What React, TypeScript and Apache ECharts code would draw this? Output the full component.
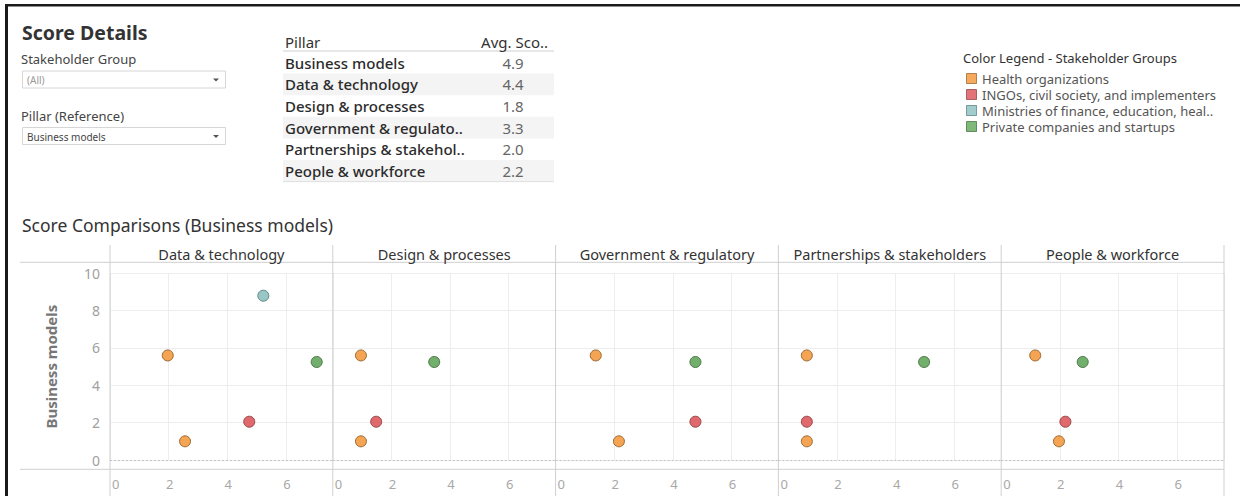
import React, { useEffect, useRef } from "react";
import * as echarts from "echarts";

// ---------- data ----------
const comparedPillars = [
  "Data & technology",
  "Design & processes",
  "Government & regulatory",
  "Partnerships & stakeholders",
  "People & workforce",
];

const stakeholderGroups = [
  "Health organizations",
  "INGOs, civil society, and implementers",
  "Ministries of finance, education, heal..",
  "Private companies and startups",
];

// [pillar score (x), business models score (y)] per compared pillar
const healthOrgs: number[][][] = [
  [[1.97, 5.6], [2.56, 1.0]],
  [[0.96, 5.6], [0.96, 1.0]],
  [[1.37, 5.6], [2.16, 1.0]],
  [[0.97, 5.6], [0.97, 1.0]],
  [[1.16, 5.6], [1.97, 1.0]],
];
const ingos: number[][][] = [
  [[4.75, 2.05]],
  [[1.48, 2.05]],
  [[4.77, 2.05]],
  [[0.97, 2.05]],
  [[2.19, 2.05]],
];
const ministries: number[][][] = [[[5.23, 8.8]], [], [], [], []];
const privateCos: number[][][] = [
  [[7.05, 5.25]],
  [[3.46, 5.25]],
  [[4.77, 5.25]],
  [[4.97, 5.25]],
  [[2.78, 5.25]],
];

const tablePillars = [
  "Business models",
  "Data & technology",
  "Design & processes",
  "Government & regulato..",
  "Partnerships & stakehol..",
  "People & workforce",
];
const avgScores = [4.9, 4.4, 1.8, 3.3, 2.0, 2.2];

const yTicks = { min: 0, max: 10, interval: 2 };
const xTicks = { min: 0, max: 7.6, interval: 2 };

// ---------- styles ----------
const FONT = "'Noto Sans', 'Open Sans', sans-serif";
const groupFill = ["#F4A452", "#E0696E", "#98C7C6", "#73AF6C"];
const groupStroke = ["#9C6A35", "#97474A", "#5F8786", "#4A7746"];
const swatchFill = ["#F5AA5E", "#E27479", "#A3CDCC", "#80B879"];

const LEFT = 110;
const PANEL_W = 222.8;
const TOP = 273.3;
const PLOT_H = 186.7;

export default function App() {
  const ref = useRef<HTMLDivElement>(null);

  useEffect(() => {
    if (!ref.current) return;
    const chart = echarts.init(ref.current, null, { renderer: "svg" });

    const grids: any[] = [];
    const xAxes: any[] = [];
    const yAxes: any[] = [];
    const series: any[] = [];
    const groupData = [healthOrgs, ingos, ministries, privateCos];

    comparedPillars.forEach((p, i) => {
      grids.push({
        left: LEFT + i * PANEL_W,
        width: PANEL_W,
        top: TOP,
        height: PLOT_H,
        containLabel: false,
      });
      xAxes.push({
        type: "value",
        gridIndex: i,
        min: xTicks.min,
        max: xTicks.max,
        interval: xTicks.interval,
        offset: 9,
        axisLine: { show: false },
        axisTick: { show: false },
        axisLabel: {
          color: "#a8a8a8",
          fontSize: 13,
          fontFamily: FONT,
          margin: 8,
          showMaxLabel: false,
          alignMinLabel: "left",
          padding: [0, 0, 0, 2],
        },
        splitLine: { show: true, lineStyle: { color: "#ededed", width: 1 } },
      });
      yAxes.push({
        type: "value",
        gridIndex: i,
        min: yTicks.min,
        max: yTicks.max,
        interval: yTicks.interval,
        axisLine: { show: false },
        axisTick: { show: false },
        axisLabel: {
          show: i === 0,
          color: "#a0a0a0",
          fontSize: 14,
          fontFamily: FONT,
          margin: 10,
        },
        name: i === 0 ? "Business models" : "",
        nameLocation: "middle",
        nameGap: 52,
        nameTextStyle: {
          fontSize: 15,
          fontWeight: "bold",
          color: "#777",
          fontFamily: FONT,
        },
        splitLine: { show: true, lineStyle: { color: "#ededed", width: 1 } },
      });
      groupData.forEach((gd, g) => {
        const s: any = {
          type: "scatter",
          name: stakeholderGroups[g],
          xAxisIndex: i,
          yAxisIndex: i,
          data: gd[i],
          symbol: "circle",
          symbolSize: 11,
          itemStyle: {
            color: groupFill[g],
            borderColor: groupStroke[g],
            borderWidth: 1,
            opacity: 1,
          },
          z: 5,
        };
        if (g === 0) {
          s.markLine = {
            silent: true,
            symbol: "none",
            label: { show: false },
            lineStyle: { type: [2, 2], color: "#c4c4c4", width: 1 },
            data: [{ yAxis: 0 }],
          };
        }
        series.push(s);
      });
    });

    const graphics: any[] = [];
    const text = (
      t: string,
      x: number,
      y: number,
      size: number,
      fill: string,
      extra: any = {}
    ) =>
      graphics.push({
        type: "text",
        x,
        y,
        z: 10,
        style: {
          text: t,
          fontSize: size,
          fontFamily: FONT,
          fill,
          verticalAlign: "middle",
          align: "left",
          ...extra,
        },
      });
    const line = (x1: number, y1: number, x2: number, y2: number, color: string, z = 3) =>
      graphics.push({
        type: "line",
        z,
        shape: { x1, y1, x2, y2 },
        style: { stroke: color, lineWidth: 1 },
      });

    // frame borders
    graphics.push({ type: "rect", z: 20, shape: { x: 5, y: 4, width: 1235, height: 2.5 }, style: { fill: "#1a1a1a" } });
    graphics.push({ type: "rect", z: 20, shape: { x: 5, y: 4, width: 3, height: 492 }, style: { fill: "#1a1a1a" } });

    // title + filters
    text("Score Details", 22, 32, 19.5, "#333", { fontWeight: "bold" });
    text("Stakeholder Group", 21, 59, 13, "#444");
    const dropdown = (y: number, label: string, color: string) => {
      graphics.push({
        type: "rect",
        z: 9,
        shape: { x: 22.5, y, width: 203, height: 17 },
        style: { fill: "#fff", stroke: "#d6d6d6", lineWidth: 1 },
      });
      text(label, 27, y + 9, 10, color);
      graphics.push({
        type: "polygon",
        z: 10,
        shape: { points: [[213, y + 7.5], [219, y + 7.5], [216, y + 10.5]] },
        style: { fill: "#555" },
      });
    };
    dropdown(71, "(All)", "#999");
    text("Pillar (Reference)", 21, 116, 13, "#444");
    dropdown(127.5, "Business models", "#444");

    // table
    const T_X0 = 283;
    const T_X1 = 554;
    const ROW_H = 21.6;
    const T_HEAD = 51;
    text("Pillar", 285, 42, 15, "#333");
    text("Avg. Sco..", 548, 42, 15, "#333", { align: "right" });
    tablePillars.forEach((p, i) => {
      const y0 = T_HEAD + 1 + i * ROW_H;
      if (i % 2 === 1) {
        graphics.push({
          type: "rect",
          z: 8,
          shape: { x: T_X0, y: y0, width: T_X1 - T_X0, height: ROW_H },
          style: { fill: "#f4f4f4" },
        });
      }
      text(p, 285, y0 + ROW_H / 2, 15, "#2b2b2b", { fontWeight: 500 });
      text(avgScores[i].toFixed(1), 513, y0 + ROW_H / 2, 15, "#666", { align: "center" });
    });
    line(T_X0, T_HEAD, T_X1, T_HEAD, "#cfcfcf", 9);
    line(T_X0, T_HEAD + 1 + tablePillars.length * ROW_H, T_X1, T_HEAD + 1 + tablePillars.length * ROW_H, "#dedede", 9);

    // legend
    text("Color Legend - Stakeholder Groups", 963, 58, 13, "#333");
    stakeholderGroups.forEach((g, i) => {
      const cy = 78.5 + i * 16;
      graphics.push({
        type: "rect",
        z: 10,
        shape: { x: 966.5, y: cy - 5, width: 10, height: 10 },
        style: { fill: swatchFill[i], stroke: groupStroke[i], lineWidth: 0.8 },
      });
      text(g, 982, cy, 13, "#555");
    });

    // section title
    text("Score Comparisons (Business models)", 22, 225, 17.5, "#333");

    // panel headers and frame lines
    comparedPillars.forEach((p, i) => {
      text(p, LEFT + i * PANEL_W + PANEL_W / 2, 254, 14.5, "#333", { align: "center" });
    });
    const right = LEFT + comparedPillars.length * PANEL_W;
    line(20, 262.3, right, 262.3, "#cfcfcf");
    line(20, TOP + PLOT_H + 9.3, right, TOP + PLOT_H + 9.3, "#cfcfcf");
    for (let i = 0; i <= comparedPillars.length; i++) {
      const x = LEFT + i * PANEL_W;
      line(x, 245, x, 496, "#cfcfcf");
    }

    chart.setOption({
      animation: false,
      backgroundColor: "#fff",
      textStyle: { fontFamily: FONT },
      grid: grids,
      xAxis: xAxes,
      yAxis: yAxes,
      series,
      graphic: { elements: graphics },
    });

    return () => chart.dispose();
  }, []);

  return (
    <div
      ref={ref}
      style={{ position: "fixed", left: 0, top: 0, width: 1240, height: 496, background: "#fff" }}
    />
  );
}
